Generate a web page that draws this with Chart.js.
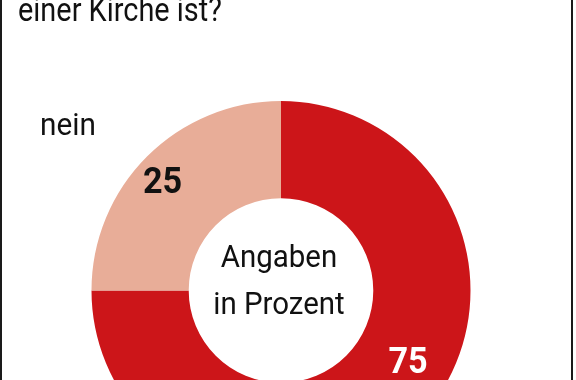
<!DOCTYPE html>
<html>
<head>
<meta charset="utf-8">
<script src="https://cdn.jsdelivr.net/npm/chart.js@4/dist/chart.umd.min.js"></script>
<style>
  html, body { margin: 0; padding: 0; background: #fff; }
  #wrap { position: relative; width: 576px; height: 380px; overflow: hidden; background: #fff; }
  #c { position: absolute; left: 0; top: 0; }
  .edge { position: absolute; top: 0; width: 2px; height: 380px; background: #1a1a1a; }
</style>
</head>
<body>
<div id="wrap">
  <canvas id="c" width="576" height="480"></canvas>
  <div class="edge" style="left:0"></div>
  <div class="edge" style="left:571px"></div>
</div>
<script>
const categories = ['ja', 'nein'];
const values = [75, 25];
const valueLabels = ['75', '25'];
const question = 'einer Kirche ist?';
const centerLines = ['Angaben', 'in Prozent'];

const FONT = 'Roboto, "Noto Sans", sans-serif';

function squeezedText(ctx, text, x, y, sx) {
  ctx.save();
  ctx.translate(x, y);
  ctx.scale(sx, 1);
  ctx.fillText(text, 0, 0);
  ctx.restore();
}

const textPlugin = {
  id: 'texts',
  afterDatasetsDraw(chart, args, opts) {
    const ctx = chart.ctx;
    const meta = chart.getDatasetMeta(0);
    ctx.save();
    // value labels inside ring
    meta.data.forEach((arc, i) => {
      const p = opts.labelPos[i];
      const a = p.angle * Math.PI / 180;
      const r = arc.innerRadius + (arc.outerRadius - arc.innerRadius) * p.r;
      const x = arc.x + r * Math.cos(a);
      const y = arc.y + r * Math.sin(a);
      ctx.font = 'bold 36px ' + FONT;
      ctx.fillStyle = opts.labelColors[i];
      ctx.textAlign = 'center';
      ctx.textBaseline = 'middle';
      squeezedText(ctx, valueLabels[i], x, y, 0.95);
    });
    const arc0 = meta.data[0];
    // center text
    ctx.font = '31px ' + FONT;
    ctx.fillStyle = '#111';
    ctx.textAlign = 'center';
    ctx.textBaseline = 'alphabetic';
    squeezedText(ctx, centerLines[0], arc0.x - 2, 267, 0.95);
    squeezedText(ctx, centerLines[1], arc0.x - 2, 314, 0.95);
    // category label and question
    ctx.textAlign = 'left';
    ctx.font = '32px ' + FONT;
    squeezedText(ctx, categories[1], 40, 135, 0.93);
    ctx.font = '34px ' + FONT;
    squeezedText(ctx, question, 18, 21, 0.85);
    ctx.restore();
  }
};

new Chart(document.getElementById('c'), {
  type: 'doughnut',
  data: {
    labels: categories,
    datasets: [{
      data: values,
      backgroundColor: ['#cc1519', '#e8ad98'],
      borderWidth: 0,
      hoverOffset: 0
    }]
  },
  options: {
    responsive: false,
    animation: false,
    cutout: '48.7%',
    layout: { padding: { top: 101, bottom: 0, left: 0, right: 14 } },
    plugins: {
      legend: { display: false },
      tooltip: { enabled: false },
      texts: {
        labelPos: [{ angle: 30, r: 0.56 }, { angle: 222, r: 0.69 }],
        labelColors: ['#ffffff', '#111111']
      }
    }
  },
  plugins: [textPlugin]
});
</script>
</body>
</html>
